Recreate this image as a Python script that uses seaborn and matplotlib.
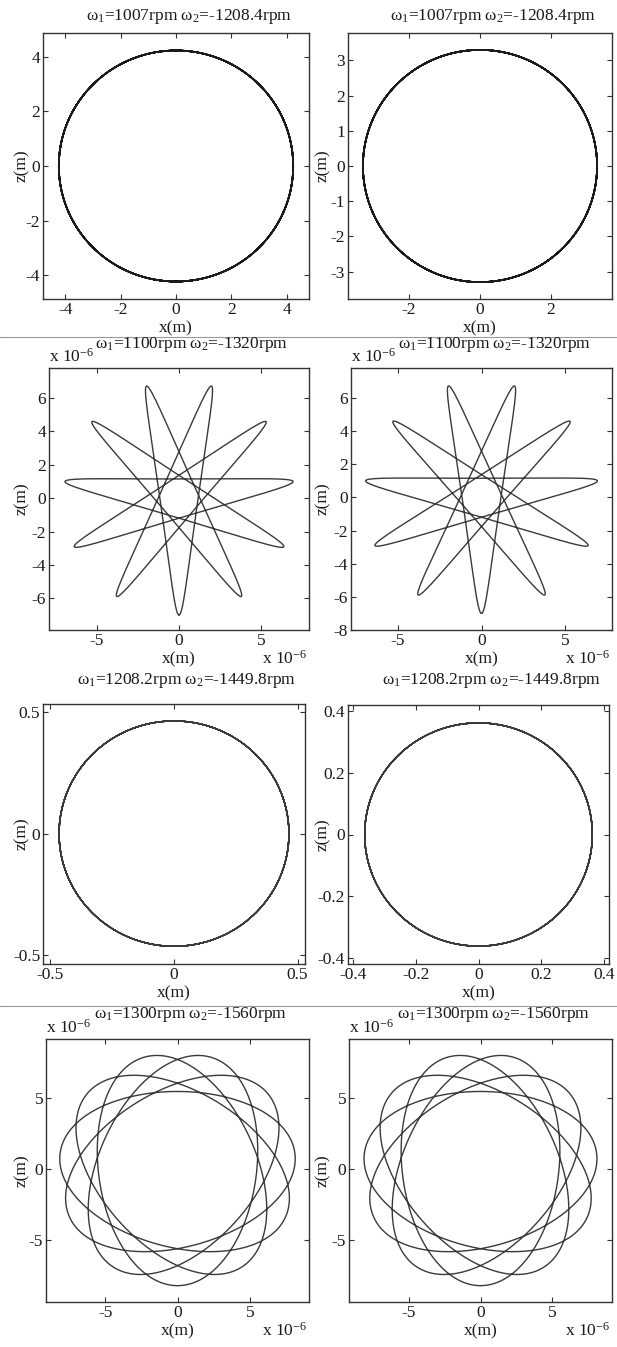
import numpy as np
import pandas as pd
import seaborn as sns
import matplotlib
matplotlib.use("Agg")
import matplotlib.pyplot as plt
from matplotlib.lines import Line2D
from matplotlib.ticker import FuncFormatter
from fractions import Fraction

# ---------------- data ----------------
omega1 = [1007, 1100, 1208.2, 1300]          # rpm
omega2 = [-1208.4, -1320, -1449.8, -1560]    # rpm
# orbit amplitudes (forward / backward whirl), left and right panel per row
fwd_amp = [[4.23, 3.30], [4.075, 4.075], [0.465, 0.362], [6.83, 6.83]]
bwd_amp = [[0.0, 0.0], [2.925, 2.925], [0.0, 0.0], [1.37, 1.37]]
unit_scale = [1.0, 1e-6, 1.0, 1e-6]
xlims = [[4.8, 3.72], [7.9, 7.8], [0.53, 0.415], [9.1, 9.2]]
ylims = [[(-4.87, 4.87), (-3.78, 3.78)],
         [(-7.9, 7.8), (-8.0, 7.8)],
         [(-0.538, 0.535), (-0.42, 0.42)],
         [(-9.35, 9.15), (-9.35, 9.15)]]
xticks = [[[-4, -2, 0, 2, 4], [-2, 0, 2]],
          [[-5, 0, 5], [-5, 0, 5]],
          [[-0.5, 0, 0.5], [-0.4, -0.2, 0, 0.2, 0.4]],
          [[-5, 0, 5], [-5, 0, 5]]]
yticks = [[[-4, -2, 0, 2, 4], [-3, -2, -1, 0, 1, 2, 3]],
          [[-6, -4, -2, 0, 2, 4, 6], [-8, -6, -4, -2, 0, 2, 4, 6]],
          [[-0.5, 0, 0.5], [-0.4, -0.2, 0, 0.2, 0.4]],
          [[-5, 0, 5], [-5, 0, 5]]]

# ---------------- style ----------------
sns.set_theme(style="white")
plt.rcParams["font.family"] = ["Liberation Serif", "DejaVu Serif"]
plt.rcParams["mathtext.fontset"] = "custom"
plt.rcParams["mathtext.rm"] = "Liberation Serif"
plt.rcParams["mathtext.it"] = "Liberation Serif:italic"
plt.rcParams["axes.unicode_minus"] = False
FS = 12.5
TXT = "#1a1a1a"

W, H = 617, 1347
fig = plt.figure(figsize=(W / 100, H / 100), dpi=100)
fig.patch.set_facecolor("white")

# axes boxes in pixels: (x0, y0, x1, y1)
boxes = [[(43, 33, 309, 299), (348, 33, 612, 299)],
         [(49, 368, 309, 630), (351, 368, 612, 630)],
         [(43, 704, 305, 964), (348, 705, 609, 964)],
         [(46, 1039, 309, 1302), (349, 1039, 612, 1302)]]
ylabel_x = [22, 323]
title_gap = [17, 23, 24, 24]


def px(b):
    x0, y0, x1, y1 = b
    return [x0 / W, 1 - y1 / H, (x1 - x0) / W, (y1 - y0) / H]


t = np.linspace(0, 2 * np.pi, 6000)
for r in range(4):
    ratio = Fraction(-omega2[r] / omega1[r]).limit_denominator(10)
    k1, k2 = ratio.denominator, ratio.numerator
    title = (r"$\mathrm{ω_1}$=%grpm $\mathrm{ω_2}$=%grpm" % (omega1[r], omega2[r]))
    for c in range(2):
        s = unit_scale[r]
        A, B = fwd_amp[r][c], bwd_amp[r][c]
        z = -1j * (A * np.exp(1j * k1 * t) + B * np.exp(-1j * k2 * t)) * s
        df = pd.DataFrame({"x": z.real, "z": z.imag})
        ax = fig.add_axes(px(boxes[r][c]))
        col = "#1a1a1a" if r == 0 else "#3a3a3a"
        lw = 1.2 if r == 0 else 1.0
        sns.lineplot(data=df, x="x", y="z", sort=False, estimator=None,
                     color=col, lw=lw, ax=ax)
        ax.set_xlim(-xlims[r][c] * s, xlims[r][c] * s)
        ax.set_ylim(ylims[r][c][0] * s, ylims[r][c][1] * s)
        ax.set_xticks([v * s for v in xticks[r][c]])
        ax.set_yticks([v * s for v in yticks[r][c]])
        ax.xaxis.set_major_formatter(FuncFormatter(lambda v, p, s=s: "%g" % round(v / s, 6)))
        ax.yaxis.set_major_formatter(FuncFormatter(lambda v, p, s=s: "%g" % round(v / s, 6)))
        ax.tick_params(direction="in", length=3.5, width=0.8, color="#333333",
                       labelsize=FS, labelcolor=TXT, pad=2,
                       top=True, right=True, bottom=True, left=True)
        for sp in ax.spines.values():
            sp.set_visible(True)
            sp.set_color("#333333")
            sp.set_linewidth(1.0)
        x0, y0, x1, y1 = boxes[r][c]
        ax.set_xlabel("x(m)", fontsize=FS, color=TXT)
        ax.set_ylabel("z(m)", fontsize=FS, color=TXT)
        ax.xaxis.set_label_coords(0.5, -(29) / (y1 - y0))
        ax.yaxis.set_label_coords((ylabel_x[c] - x0) / (x1 - x0), 0.5)
        ax.xaxis.label.set_va("center")
        ax.yaxis.label.set_va("center")
        ax.set_facecolor("white")
        tx = (x0 + x1) / 2 + 13
        ty = y0 - title_gap[r]
        fig.text(tx / W, 1 - ty / H, title, ha="center", va="center",
                 fontsize=FS, color=TXT)
        if s != 1.0:
            fig.text(x0 / W, 1 - (y0 - 2) / H, r"x 10$^{\mathrm{-6}}$", ha="left",
                     va="bottom", fontsize=FS, color=TXT)
            fig.text((x1 - 2) / W, 1 - (y1 + 29) / H, r"x 10$^{\mathrm{-6}}$", ha="right",
                     va="center", fontsize=FS, color=TXT)

# separator lines of the composite figure
for yy in [337, 1006]:
    fig.add_artist(Line2D([0, 1], [1 - yy / H, 1 - yy / H], transform=fig.transFigure,
                          color="#9a9a9a", lw=0.8))

fig.savefig("out.png", dpi=100, facecolor="white")
